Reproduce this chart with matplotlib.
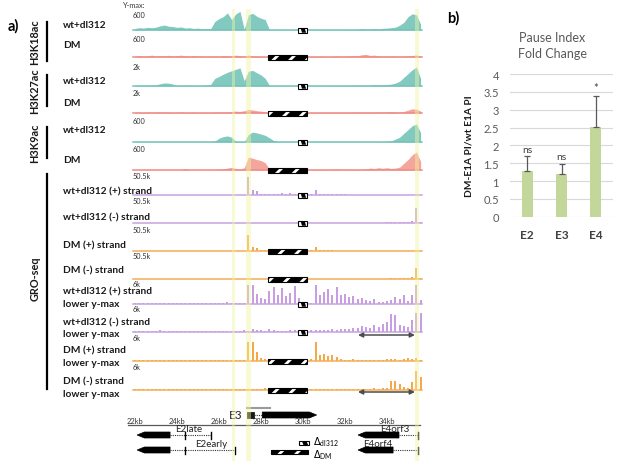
import numpy as np
import matplotlib.pyplot as plt
import matplotlib.transforms as mtransforms
from matplotlib.patches import Rectangle, Polygon

plt.rcParams['font.family'] = ['Lato', 'DejaVu Sans']
plt.rcParams['hatch.linewidth'] = 2.0

W, H = 617, 464

# genome bins (kb), 0.2 kb steps
kb = np.round(np.arange(22.0, 35.61, 0.2), 1)

# coverage per bin, in % of the y-max printed above each track
h3k18ac_wt = [8, 12, 10, 14, 12, 15, 22, 26, 20, 18, 14, 16, 10, 12, 8, 10, 6, 8,
              6, 45, 60, 70, 90, 55, 85, 98, 3, 80, 88, 72, 62, 55, 2,
              2, 2, 2, 2, 2, 2, 2, 2, 2, 2, 2, 2, 2, 2, 2, 2, 2,
              2, 3, 2, 3, 8, 5, 6, 8, 6, 9, 10, 12, 15, 25, 40, 70, 85, 80, 30]
h3k18ac_dm = [5, 8, 4, 6, 10, 5, 8, 6, 9, 5, 7, 10, 6, 4, 8, 5, 6, 4,
              5, 6, 4, 8, 6, 5, 10, 6, 4, 10, 6, 5, 4, 3, 2,
              2, 2, 2, 2, 2, 2, 2, 2,
              3, 4, 3, 5, 4, 3, 4, 6, 4, 5, 6, 8, 6, 12,
              14, 8, 10, 6, 5, 4, 6, 5, 4, 5, 6, 8, 10, 6]
h3k27ac_wt = [3, 4, 3, 5, 4, 6, 12, 16, 15, 10, 3, 3, 4, 3, 3, 2, 3, 4,
              8, 40, 50, 62, 72, 80, 88, 95, 28, 78, 82, 70, 58, 40, 3,
              2, 2, 2, 2, 2, 2, 2, 2, 2, 2, 2, 2, 2, 2, 2, 3, 2,
              3, 2, 3, 4, 3, 4, 5, 8, 6, 7, 8, 10, 15, 25, 45, 65, 85, 100, 40]
h3k27ac_dm = [4, 5, 3, 6, 4, 5, 6, 4, 5, 3, 4, 6, 3, 4, 5, 3, 4, 3,
              4, 5, 4, 6, 5, 8, 10, 8, 12, 18, 16, 12, 10, 6, 3,
              2, 2, 2, 2, 2, 2, 2, 2,
              3, 4, 3, 3, 4, 3, 4, 3, 4, 3, 4, 5, 4, 5,
              4, 5, 4, 6, 5, 6, 8, 6, 5, 8, 15, 22, 20, 10]
h3k9ac_wt = [1, 1, 1, 2, 1, 1, 1, 1, 2, 1, 1, 1, 1, 1, 1, 2, 1, 1,
             2, 4, 20, 28, 32, 25, 4, 2, 2, 40, 52, 48, 42, 35, 22,
             8, 2, 1, 1, 1, 1, 1, 1, 1, 1, 1, 1, 1, 1, 1, 1, 1,
             1, 1, 1, 1, 1, 1, 1, 1, 2, 2, 3, 6, 15, 25, 45, 65, 85, 95, 50]
h3k9ac_dm = [1, 1, 1, 1, 1, 1, 1, 1, 1, 1, 1, 1, 8, 1, 1, 1, 1, 1,
             1, 2, 4, 6, 10, 14, 8, 5, 12, 68, 62, 55, 50, 38, 5,
             2, 2, 2, 2, 2, 2, 2, 2,
             3, 2, 3, 2, 3, 2, 3, 5, 3, 2, 4, 3, 2, 3,
             6, 10, 8, 12, 9, 12, 8, 10, 15, 35, 55, 80, 95, 45]
gro_wt_plus = [1] * 27 + [95, 25, 22, 6, 4, 3, 5, 4, 8, 6, 10, 5, 8, 3, 3, 4,
                          28, 6, 5, 4, 5, 3, 4, 3] + [2] * 16 + [4, 2]
gro_wt_minus = [1] * 60 + [4, 4, 3, 4, 4, 6, 8, 78, 5]
gro_dm_plus = [1] * 27 + [85, 22, 18, 5, 3, 2] + [2] * 8 + [2, 3, 22, 5, 4, 3, 3] + [2] * 21
gro_dm_minus = [1] * 60 + [2, 3, 3, 4, 5, 6, 10, 58, 4]
gro_wt_plus_low = [4, 6, 3, 5, 7, 4, 6, 5, 3, 6, 4, 5, 7, 4, 3, 5, 4, 6, 3, 5, 4, 6, 8, 5, 4, 6, 5,
                   100, 100, 55, 30, 25, 70, 90, 50, 85, 40, 60, 95, 30, 4,
                   3, 5, 100, 45, 65, 80, 50, 90, 45, 55, 35, 40, 25, 30, 20, 15, 25, 12, 10,
                   15, 20, 35, 25, 50, 15, 45, 100, 20]
gro_wt_minus_low = [5, 6, 4, 7, 5, 6, 8, 5, 4, 6, 5, 7, 6, 4, 5, 6, 5, 4, 6, 5, 7, 5, 6, 4, 5, 6, 8,
                    6, 15, 10, 8, 6, 18, 8, 5, 7, 6, 8, 10, 5, 4,
                    5, 8, 10, 12, 10, 12, 15, 12, 14, 18, 15, 20, 22, 30, 25, 20, 35, 25, 40,
                    55, 95, 90, 35, 30, 25, 65, 100, 100]
gro_dm_plus_low = [3, 4, 3, 5, 4, 3, 6, 4, 3, 4, 3, 5, 4, 3, 4, 3, 5, 4, 3, 4, 3, 4, 5, 3, 4, 5, 6,
                   100, 100, 45, 15, 12, 4, 3, 3, 3, 3, 3, 3, 3, 3,
                   4, 10, 100, 30, 35, 25, 30, 20, 8, 6, 5, 8, 6, 5, 4, 6, 5, 4, 5,
                   8, 12, 10, 6, 8, 15, 12, 18, 5]
gro_dm_minus_low = [3, 4, 3, 3, 4, 3, 5, 3, 4, 3, 4, 3, 3, 4, 3, 5, 3, 4, 3, 3, 4, 3, 4, 3, 4, 3, 3,
                    4, 5, 4, 3, 12, 4, 2, 2, 2, 2, 2, 2, 2, 2,
                    3, 4, 3, 3, 4, 3, 4, 3, 4, 3, 4, 4, 5, 4, 5, 6, 8, 6, 10,
                    12, 45, 50, 30, 15, 10, 40, 100, 70]

tracks = [h3k18ac_wt, h3k18ac_dm, h3k27ac_wt, h3k27ac_dm, h3k9ac_wt, h3k9ac_dm,
          gro_wt_plus, gro_wt_minus, gro_dm_plus, gro_dm_minus,
          gro_wt_plus_low, gro_wt_minus_low, gro_dm_plus_low, gro_dm_minus_low]
ymax_labels = ['600', '600', '2k', '2k', '600', '600', '50.5k', '50.5k', '50.5k', '50.5k',
               '6k', '6k', '6k', '6k']
sample = ['wt', 'dm', 'wt', 'dm', 'wt', 'dm',
          'wt', 'wt', 'dm', 'dm', 'wt', 'wt', 'dm', 'dm']
assay = ['chip'] * 6 + ['gro'] * 8

# deletions (kb)
del_dl312 = (29.76, 30.19)
del_dm = (28.35, 30.2)
# highlighted promoter regions (kb)
highlights = [(26.6, 26.78), (27.28, 27.52), (35.33, 35.52)]

# gene models: tip kb, body end kb, dotted end kb, inner tick kb, row
genes = {'E2late': (22.1, 23.67, 25.62, 24.38, 0),
         'E2early': (22.1, 23.67, 26.76, 24.38, 1),
         'E4orf3': (32.62, 34.57, 35.48, None, 0),
         'E4orf4': (32.62, 34.29, 35.48, None, 1)}
gene_label_kb = {'E2late': 23.9, 'E2early': 24.86, 'E4orf3': 33.67, 'E4orf4': 32.86}
e3_exon = (27.32, 27.66)
e3_body = (28.06, 30.65)
e3_bar = (27.32, 28.43)
ruler_ticks = [22, 24, 26, 28, 30, 32, 34]
arrow_span = (32.62, 35.33)

# right panel
pi_genes = ['E2', 'E3', 'E4']
pi_fold = [1.27, 1.21, 2.52]
pi_err = [0.42, 0.27, 0.87]
pi_sig = ['ns', 'ns', '*']

# ---- layout (pixels) ----
X0_PX, PX_PER_KB = 135, 21.0
bases = [31, 58, 87, 114, 143, 171, 196, 224, 252, 280, 305, 333, 362, 391]
label_y = [15, 40, 67, 94, 121, 150, 177, 202, 231, 257, 285, 310, 339, 368]
TRACK_H = 19

fill_col = {('chip', 'wt'): '#82c9c0', ('chip', 'dm'): '#f4a69c',
            ('gro', 'wt'): '#c99de2', ('gro', 'dm'): '#f7a846'}
line_col = {('chip', 'wt'): '#74c2b8', ('chip', 'dm'): '#ef8a84',
            ('gro', 'wt'): '#c6a3e0', ('gro', 'dm'): '#f5ac55'}

fig = plt.figure(figsize=(W / 100, H / 100), dpi=100)
pix = mtransforms.Affine2D().scale(1 / W, -1 / H).translate(0, 1) + fig.transFigure

ax = fig.add_axes([0, 0, 1, 1])
ax.set_xlim(22 - X0_PX / PX_PER_KB, 22 + (W - X0_PX) / PX_PER_KB)
ax.set_ylim(H, 0)
ax.axis('off')


def dm_box(x0, x1, yc, h=4.5):
    # long deletion: black dashes separated by white slants
    ax.add_patch(Rectangle((x0, yc - h / 2), x1 - x0, h, facecolor='black', lw=0, zorder=7))
    ax.add_patch(Rectangle((x0, yc - h / 2), x1 - x0, h, facecolor='none',
                           edgecolor='white', hatch='//', lw=0, zorder=8))
    ax.add_patch(Rectangle((x0, yc - h / 2), x1 - x0, h, facecolor='none',
                           edgecolor='black', lw=0.8, zorder=9))


def dl312_box(x0, x1, yc, h=4.5):
    # small deletion: white box with a black slanted chunk
    w = x1 - x0
    ax.add_patch(Rectangle((x0, yc - h / 2), w, h, facecolor='white', lw=0, zorder=7))
    ax.add_patch(Polygon([(x0 + 0.3 * w, yc - h / 2), (x0 + 0.75 * w, yc - h / 2),
                          (x0 + 0.9 * w, yc + h / 2), (x0 + 0.45 * w, yc + h / 2)],
                         closed=True, facecolor='black', lw=0, zorder=8))
    ax.add_patch(Rectangle((x0, yc - h / 2), w, h, facecolor='none',
                           edgecolor='black', lw=0.8, zorder=9))


for vals, base, lab, lab_y, smp, kind in zip(tracks, bases, ymax_labels, label_y, sample, assay):
    y = base - np.array(vals) / 100 * TRACK_H
    col = fill_col[(kind, smp)]
    if kind == 'chip':
        ax.fill_between(kb, base, y, color=col, lw=0, zorder=2)
    else:
        ax.bar(kb, y - base, bottom=base, width=0.09, color=col, lw=0, zorder=2)
    ax.plot([21.9, 35.67], [base, base], color=line_col[(kind, smp)], lw=1.1, zorder=3)
    ax.text(21.9, lab_y, lab, fontsize=5.3, color='#333333', va='center', ha='left')
    if smp == 'wt':
        dl312_box(*del_dl312, base + 0.5)
    else:
        dm_box(*del_dm, base + 0.5)

ax.text(21.43, 6, 'Y-max:', fontsize=5.3, color='#333333', va='center', ha='left')

# highlighted regions
for a, b in highlights:
    ax.fill_between([a, b], 10, 462, color='#eef4a0', alpha=0.45, lw=0, zorder=5)

# double arrows
for yb in (336, 393):
    ax.annotate('', xy=(arrow_span[1], yb), xytext=(arrow_span[0], yb),
                arrowprops=dict(arrowstyle='<|-|>', color='#4d4d4d', lw=1.1,
                                mutation_scale=7, shrinkA=0, shrinkB=0), zorder=6)

# ruler
ax.plot([21.65, 35.57], [426, 426], color='#595959', lw=0.9, zorder=3)
for t in ruler_ticks:
    ax.text(t, 425, f'{t}kb', fontsize=5.4, ha='center', va='bottom', color='#333333')

# gene models
row_y = [436, 451]
for name, (tip, body_end, dot_end, tick, row) in genes.items():
    yc = row_y[row]
    hh = 3
    head = 0.35
    ax.add_patch(Polygon([(tip, yc), (tip + head, yc - hh), (body_end, yc - hh),
                          (body_end, yc + hh), (tip + head, yc + hh)],
                         closed=True, facecolor='black', edgecolor='black', lw=0.5, zorder=4))
    ax.plot([body_end, dot_end], [yc, yc], color='#333333', lw=0.8, ls=(0, (1, 1)), zorder=4)
    ax.plot([dot_end, dot_end], [yc - 3.5, yc + 3.5], color='black', lw=1.0, zorder=4)
    if tick is not None:
        ax.plot([tick, tick], [yc - 3.5, yc + 3.5], color='black', lw=1.0, zorder=4)
    ax.text(gene_label_kb[name], yc - 1.5, name, fontsize=7, ha='left', va='bottom',
            color='#222222', zorder=6)

# E3
ax.add_patch(Rectangle((e3_exon[0], 413), e3_exon[1] - e3_exon[0], 6,
                       facecolor='#1a1a10', edgecolor='black', lw=0.5, zorder=4))
ax.plot([e3_exon[1], e3_body[0]], [416, 416], color='#333333', lw=0.8, ls=(0, (1, 1)), zorder=4)
ax.add_patch(Polygon([(e3_body[0], 413), (e3_body[1] - 0.35, 413), (e3_body[1], 416),
                      (e3_body[1] - 0.35, 419), (e3_body[0], 419)],
                     closed=True, facecolor='black', edgecolor='black', lw=0.5, zorder=4))
ax.plot(list(e3_bar), [409, 409], color='#9a9a9a', lw=1.5, zorder=4)
ax.text(e3_exon[0] - 0.2, 416, 'E3', fontsize=8.5, ha='right', va='center', color='#222222')

# deletion legend
dl312_box(29.8, 30.29, 444, h=4)
dm_box(28.48, 30.24, 453, h=4)
ax.text(30.48, 442, r'$\Delta_{\mathregular{dl312}}$', fontsize=7, ha='left', va='center')
ax.text(30.48, 455, r'$\Delta_{\mathregular{DM}}$', fontsize=7, ha='left', va='center')

# left-hand labels
row_labels = [('wt+dl312', 25), ('DM', 46), ('wt+dl312', 81), ('DM', 104),
              ('wt+dl312', 131), ('DM', 161),
              ('wt+dl312 (+) strand', 192), ('wt+dl312 (-) strand', 218),
              ('DM (+) strand', 246), ('DM (-) strand', 271),
              ('wt+dl312 (+) strand', 292), ('lower y-max', 305),
              ('wt+dl312 (-) strand', 323), ('lower y-max', 335),
              ('DM (+) strand', 351), ('lower y-max', 364),
              ('DM (-) strand', 382), ('lower y-max', 395)]
for txt, yy in row_labels:
    ax.text(63, yy, txt, transform=pix, fontsize=7.3, fontweight='bold',
            va='center', ha='left', color='#1a1a1a')

groups = [('H3K18ac', 42, 23, 62), ('H3K27ac', 91, 76, 107),
          ('H3K9ac', 143, 128, 159), ('GRO-seq', 279, 175, 390)]
for txt, yc, y0, y1 in groups:
    ax.text(35, yc, txt, transform=pix, fontsize=7.8, fontweight='bold', rotation=90,
            va='center', ha='center', color='#1a1a1a')
    ax.plot([47, 47], [y0, y1], transform=pix, color='black', lw=1.6)

ax.text(8, 26, 'a)', transform=pix, fontsize=10.5, fontweight='bold', va='center', ha='left')

# ---- panel b ----
bx = fig.add_axes([510 / W, 1 - 217.7 / H, 103 / W, (217.7 - 75) / H])
xs = np.arange(len(pi_genes))
bx.bar(xs, pi_fold, width=0.33, color='#c4d79b', zorder=3)
bx.errorbar(xs, pi_fold, yerr=[np.zeros(len(xs)), pi_err], fmt='none',
            ecolor='#595959', elinewidth=0.9, capsize=2.5, capthick=0.9, zorder=4)
for i, s in enumerate(pi_sig):
    top = pi_fold[i] + pi_err[i]
    bx.text(xs[i], top + (0.22 if s == '*' else 0.2), s, ha='center', va='center',
            fontsize=7.5 if s == 'ns' else 8, color='#404040')
bx.set_xlim(-0.5, 2.5)
bx.set_ylim(0, 4)
bx.set_yticks(np.arange(0, 4.01, 0.5))
bx.set_yticklabels(['0', '0.5', '1', '1.5', '2', '2.5', '3', '3.5', '4'])
bx.set_xticks(xs)
bx.set_xticklabels(pi_genes, fontweight='bold')
bx.grid(axis='y', color='#d9d9d9', lw=0.8, zorder=0)
for sp in bx.spines.values():
    sp.set_visible(False)
bx.tick_params(axis='y', length=0, pad=8, labelsize=8, labelcolor='#595959')
bx.tick_params(axis='x', length=0, pad=9, labelsize=8.5, labelcolor='#404040')
bx.patch.set_alpha(0)

ax.text(469, 146, 'DM-E1A PI/wt E1A PI', transform=pix, fontsize=7.3, fontweight='bold',
        rotation=90, va='center', ha='center', color='#1a1a1a')
ax.text(552, 38, 'Pause Index', transform=pix, fontsize=9, va='center', ha='center', color='#595959')
ax.text(552, 54, 'Fold Change', transform=pix, fontsize=9, va='center', ha='center', color='#595959')
ax.text(447, 18, 'b)', transform=pix, fontsize=10.5, fontweight='bold', va='center', ha='left')

fig.savefig('out.png', dpi=100)
